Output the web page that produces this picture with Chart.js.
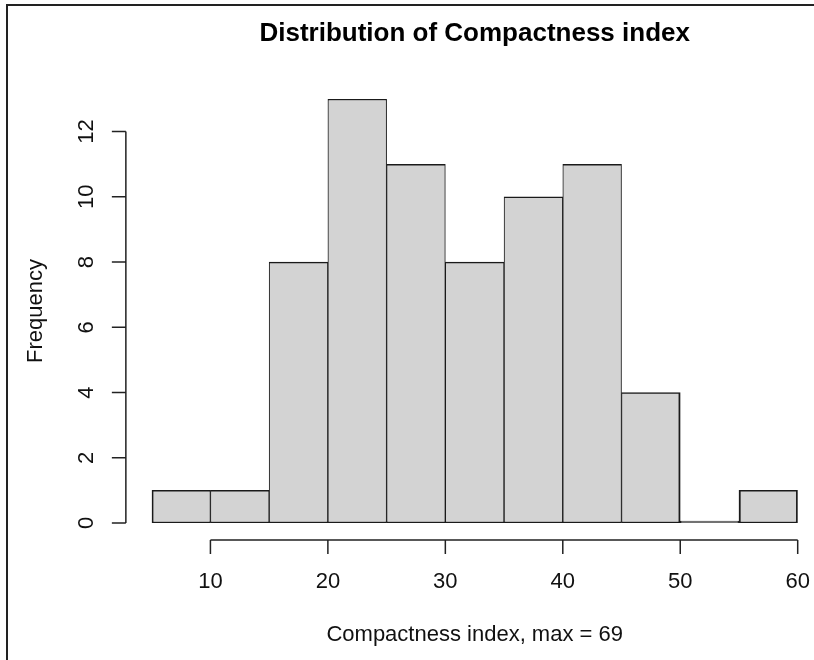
<!DOCTYPE html>
<html>
<head>
<meta charset="utf-8">
<script src="https://cdn.jsdelivr.net/npm/chart.js@4"></script>
<style>
  html, body { margin: 0; padding: 0; background: #fff; }
  #wrap { position: relative; width: 814px; height: 660px; }
  canvas { display: block; }
</style>
</head>
<body>
<div id="wrap"><canvas id="c" width="814" height="660"></canvas></div>
<script>
// ---- data ----
const binStarts = [5, 10, 15, 20, 25, 30, 35, 40, 45, 50, 55];
const binWidth = 5;
const counts = [1, 1, 8, 13, 11, 8, 10, 11, 4, 0, 1];
const xTicks = [10, 20, 30, 40, 50, 60];
const yTicks = [0, 2, 4, 6, 8, 10, 12];
const chartTitle = 'Distribution of Compactness index';
const xTitle = 'Compactness index, max = 69';
const yTitle = 'Frequency';

const xMin = 5, xMax = 60, yMin = 0, yMax = 13;
const ext = 0.04; // R style axis extension

const points = binStarts.map((s, i) => ({ x: s + binWidth / 2, y: counts[i] }));

const FONT = '"Liberation Sans", Arial, Helvetica, sans-serif';

const rAxes = {
  id: 'rAxes',
  beforeDraw(chart) {
    const ctx = chart.ctx;
    ctx.save();
    ctx.fillStyle = '#fff';
    ctx.fillRect(0, 0, chart.width, chart.height);
    // frame of the screenshot (top and left edges)
    ctx.strokeStyle = '#222';
    ctx.lineWidth = 2;
    ctx.beginPath();
    ctx.moveTo(7, chart.height);
    ctx.lineTo(7, 5);
    ctx.lineTo(chart.width, 5);
    ctx.stroke();
    ctx.restore();
  },
  afterDraw(chart) {
    const ctx = chart.ctx;
    const xs = chart.scales.x, ys = chart.scales.y;
    const xr = xMax - xMin, yr = yMax - yMin;
    const axX = xs.getPixelForValue(xMin - ext * xr);
    const axY = ys.getPixelForValue(yMin - ext * yr);
    const tick = 14;
    ctx.save();
    ctx.strokeStyle = '#222';
    ctx.lineWidth = 1.5;
    ctx.fillStyle = '#111';
    // x axis
    ctx.beginPath();
    ctx.moveTo(xs.getPixelForValue(xTicks[0]), axY);
    ctx.lineTo(xs.getPixelForValue(xTicks[xTicks.length - 1]), axY);
    xTicks.forEach(v => {
      const px = xs.getPixelForValue(v);
      ctx.moveTo(px, axY);
      ctx.lineTo(px, axY + tick);
    });
    ctx.stroke();
    ctx.font = '22px ' + FONT;
    ctx.textAlign = 'center';
    ctx.textBaseline = 'alphabetic';
    xTicks.forEach(v => {
      ctx.fillText(String(v), xs.getPixelForValue(v), axY + 48);
    });
    // y axis
    ctx.beginPath();
    ctx.moveTo(axX, ys.getPixelForValue(yTicks[0]));
    ctx.lineTo(axX, ys.getPixelForValue(yTicks[yTicks.length - 1]));
    yTicks.forEach(v => {
      const py = ys.getPixelForValue(v);
      ctx.moveTo(axX, py);
      ctx.lineTo(axX - tick, py);
    });
    ctx.stroke();
    yTicks.forEach(v => {
      ctx.save();
      ctx.translate(axX - 33, ys.getPixelForValue(v));
      ctx.rotate(-Math.PI / 2);
      ctx.fillText(String(v), 0, 0);
      ctx.restore();
    });
    // titles
    const plotL = axX, plotR = xs.getPixelForValue(xMax + ext * xr);
    const plotT = ys.getPixelForValue(yMax + ext * yr);
    const cx = (plotL + plotR) / 2;
    const cy = (axY + plotT) / 2;
    ctx.fillStyle = '#000';
    ctx.font = 'bold 26px ' + FONT;
    ctx.fillText(chartTitle, cx, 41);
    ctx.fillStyle = '#111';
    ctx.font = '22px ' + FONT;
    ctx.fillText(xTitle, cx, 641);
    ctx.save();
    ctx.translate(42, cy);
    ctx.rotate(-Math.PI / 2);
    ctx.fillText(yTitle, 0, 0);
    ctx.restore();
    ctx.restore();
  }
};

new Chart(document.getElementById('c'), {
  type: 'bar',
  data: {
    datasets: [{
      data: points,
      backgroundColor: '#D3D3D3',
      borderColor: '#1a1a1a',
      borderSkipped: false,
      minBarLength: 2,
      borderWidth: (c) => {
        const i = c.dataIndex;
        const prevZero = i === 0 || counts[i - 1] === 0;
        const nextZero = i === counts.length - 1 || counts[i + 1] === 0;
        return { top: 1.5, bottom: 1.5, left: prevZero ? 2 : 1, right: nextZero ? 2 : 1 };
      },
      barPercentage: 1,
      categoryPercentage: 1
    }]
  },
  options: {
    responsive: false,
    animation: false,
    layout: { padding: { left: 151.7, right: 814 - 797.7, top: 99, bottom: 660 - 523 } },
    scales: {
      x: { type: 'linear', min: xMin, max: xMax, display: false, offset: false },
      y: { type: 'linear', min: yMin, max: yMax, display: false }
    },
    plugins: {
      legend: { display: false },
      tooltip: { enabled: false },
      title: { display: false }
    }
  },
  plugins: [rAxes]
});
</script>
</body>
</html>
